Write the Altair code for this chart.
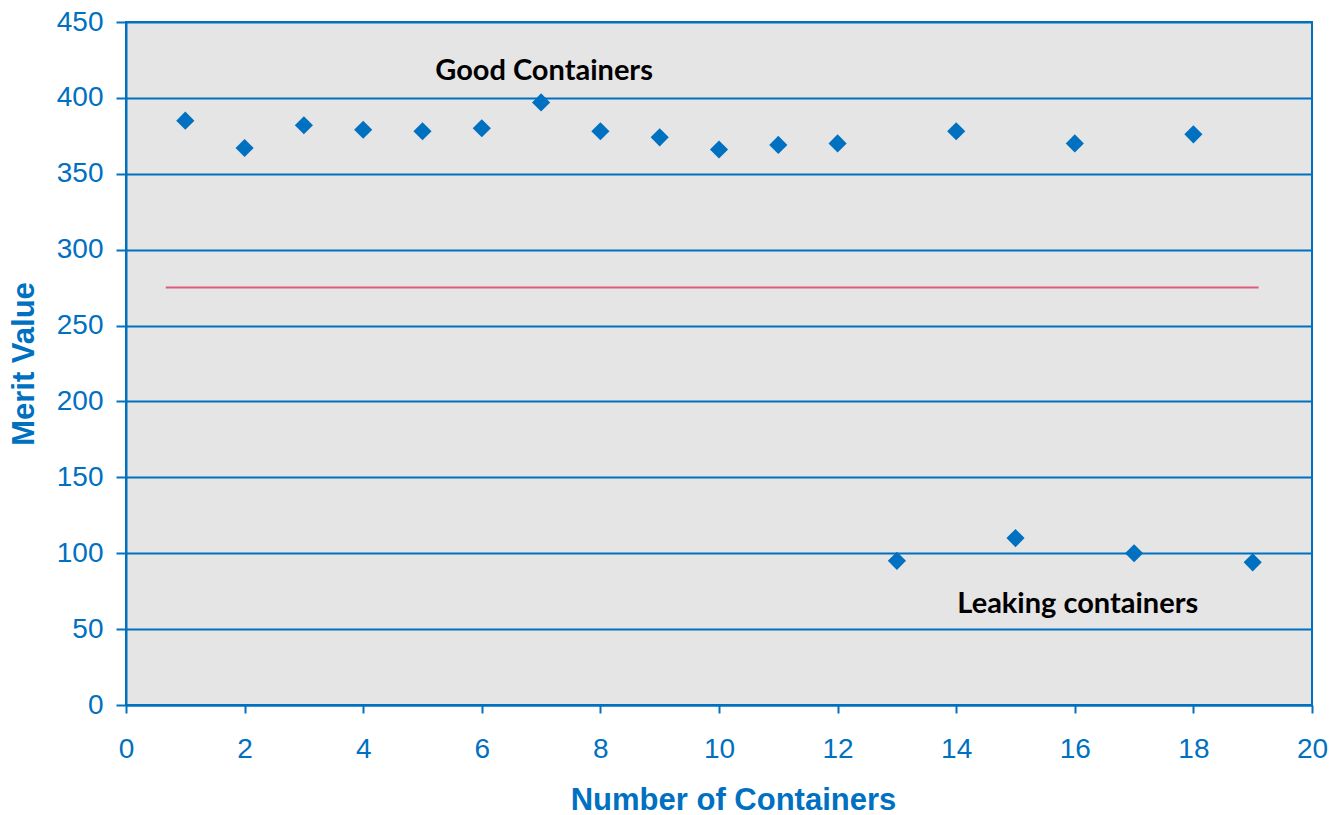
import altair as alt
import pandas as pd

containers = list(range(1, 20))
merit = [385, 367, 382, 379, 378, 380, 397, 378, 374, 366, 369, 370, 95, 378, 110, 370, 100, 376, 94]

threshold_x = [0.67, 19.1]
threshold_y = [275, 275]

label_text = ["Good Containers", "Leaking containers"]
label_x = [7.05, 16.05]
label_y = [411.8, 60.6]

blue = "#0070C0"

df = pd.DataFrame({"n": containers, "v": merit})
thr = pd.DataFrame({"x": threshold_x, "y": threshold_y})
lab = pd.DataFrame({"t": label_text, "x": label_x, "y": label_y})

xscale = alt.Scale(domain=[0, 20], nice=False, zero=False)
yscale = alt.Scale(domain=[0, 450], nice=False)

xaxis = alt.Axis(values=list(range(0, 21, 2)), format="d", title="Number of Containers", grid=False,
                 labelFlush=False,
                 domainColor=blue, domainWidth=2, tickColor=blue, tickWidth=2, tickSize=8,
                 labelColor=blue, labelFontSize=28, labelFont="Liberation Sans", labelPadding=22,
                 titleColor=blue, titleFontSize=31, titleFont="Liberation Sans", titleFontWeight="bold",
                 titlePadding=22, titleX=607, titleAlign="center")
yaxis = alt.Axis(values=list(range(0, 451, 50)), format="d", title="Merit Value", grid=True,
                 labelFlush=False,
                 gridColor=blue, gridWidth=2, gridOpacity=1,
                 domainColor=blue, domainWidth=2, tickColor=blue, tickWidth=2, tickSize=10,
                 labelColor=blue, labelFontSize=28, labelFont="Liberation Sans", labelPadding=13,
                 titleColor=blue, titleFontSize=31, titleFont="Liberation Sans", titleFontWeight="bold",
                 titlePadding=16)

points = alt.Chart(df).mark_point(shape="diamond", filled=True, size=330, color=blue, opacity=1).encode(
    x=alt.X("n:Q", scale=xscale, axis=xaxis),
    y=alt.Y("v:Q", scale=yscale, axis=yaxis),
)

line = alt.Chart(thr).mark_line(color="#E05A7A", strokeWidth=2).encode(
    x=alt.X("x:Q", scale=xscale),
    y=alt.Y("y:Q", scale=yscale),
)

text = alt.Chart(lab).mark_text(font="Lato", fontWeight="bold", fontSize=29, color="black",
                                align="center", baseline="alphabetic").encode(
    x=alt.X("x:Q", scale=xscale),
    y=alt.Y("y:Q", scale=yscale),
    text="t:N",
)

chart = alt.layer(line, points, text).properties(
    width=1186, height=683,
    autosize=alt.AutoSizeParams(type="none"),
    padding={"left": 118, "top": 14, "right": 21, "bottom": 110},
    background="white",
).configure_view(fill="#E5E5E5", stroke=blue, strokeWidth=2)

chart.save("out.html", embed_options={"renderer": "svg", "actions": False})
